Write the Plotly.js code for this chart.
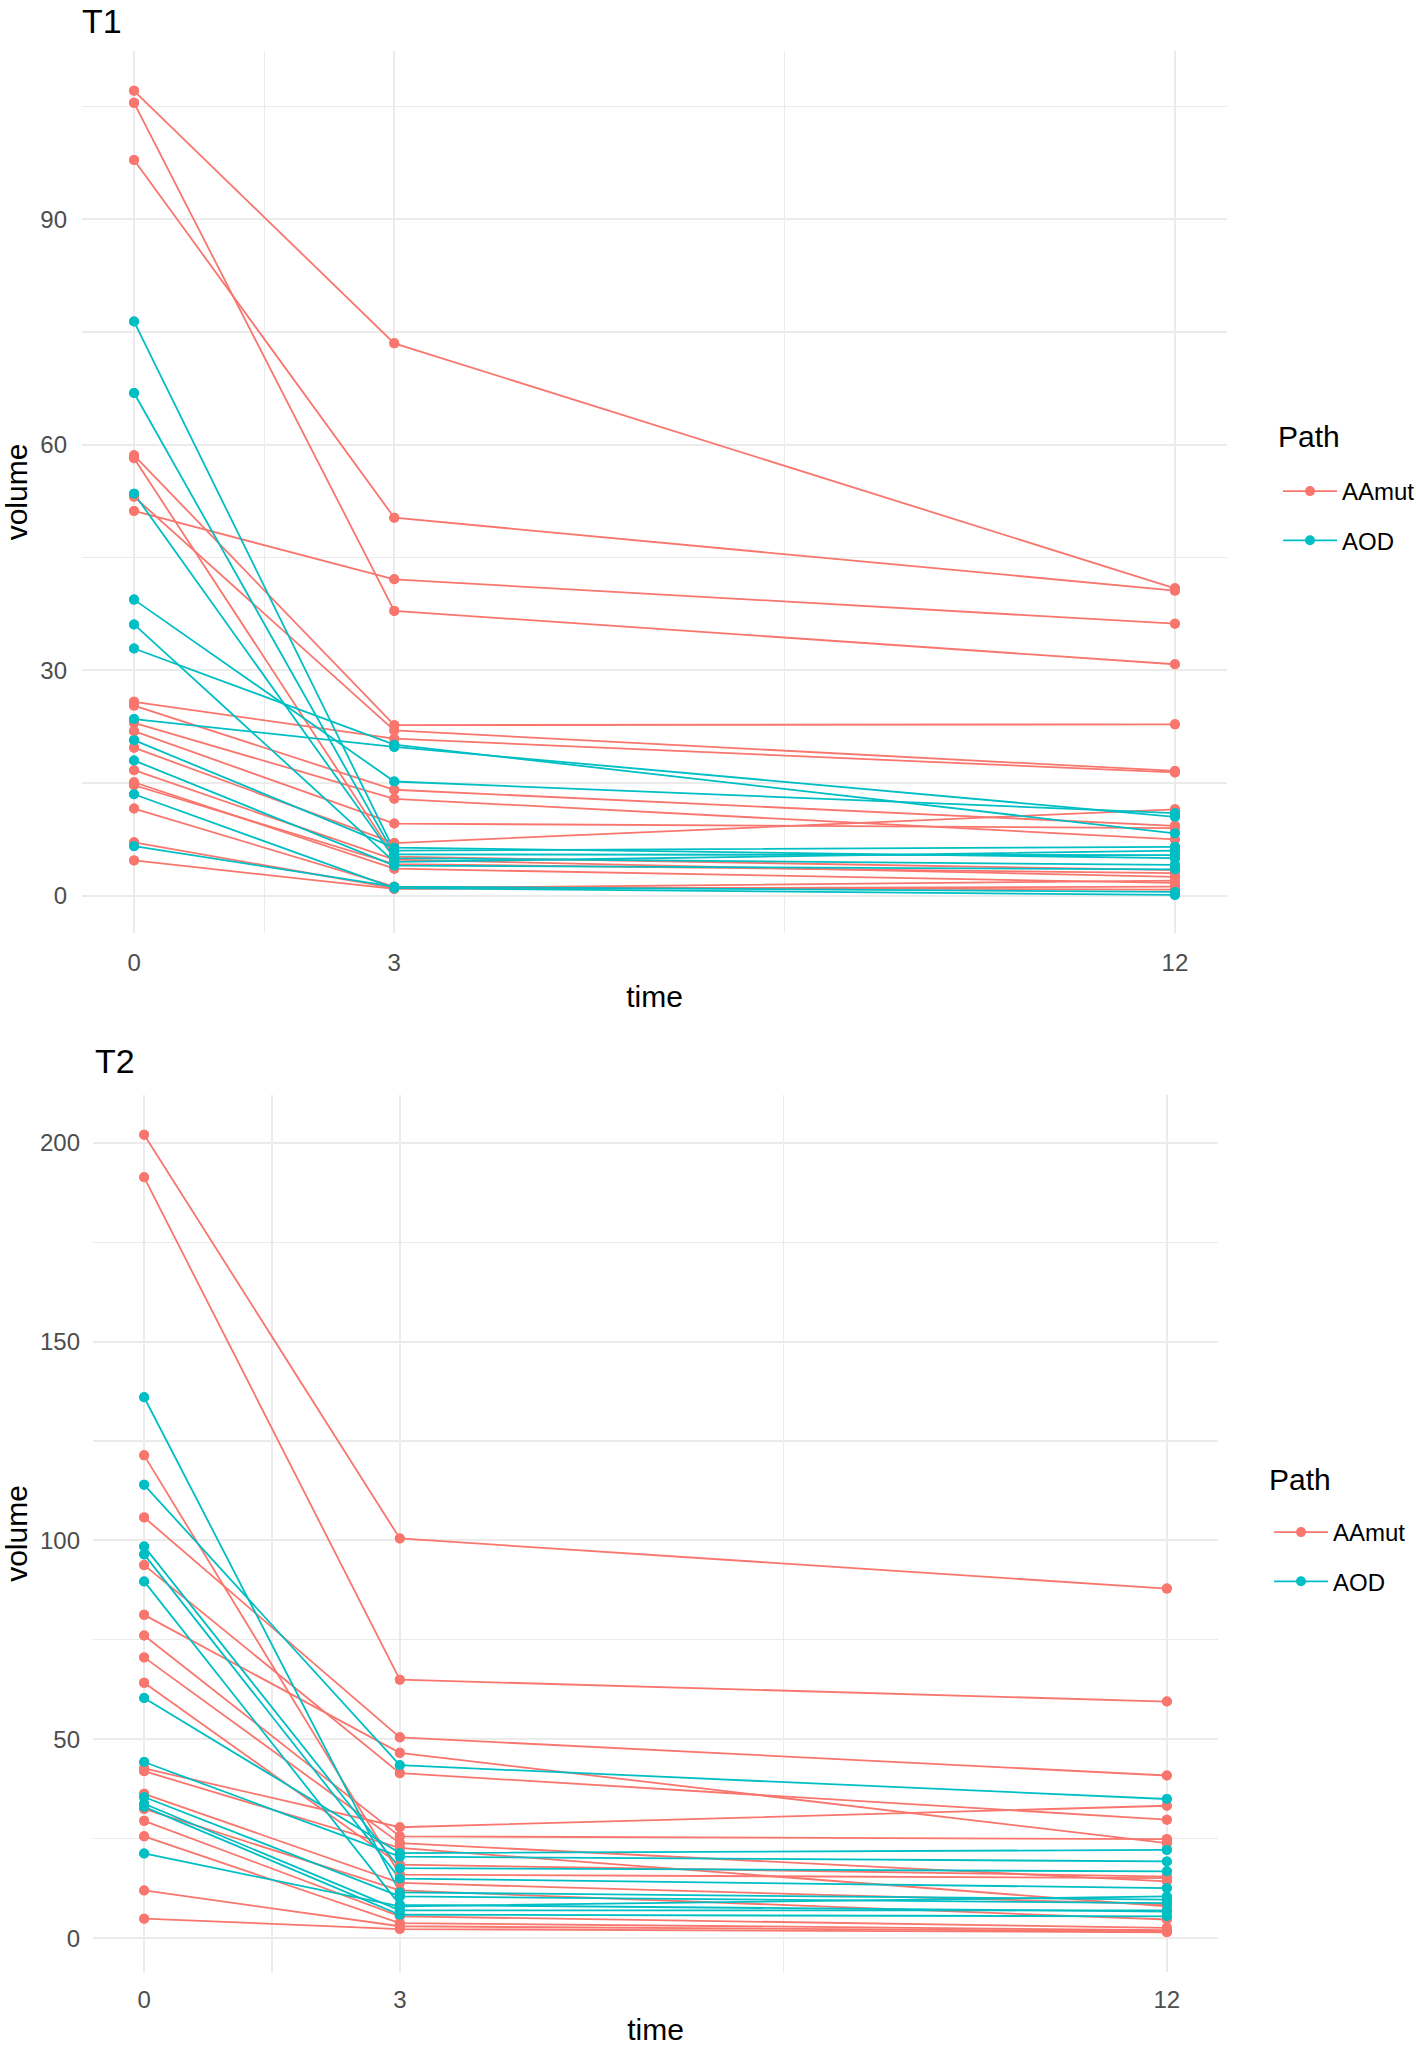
<!DOCTYPE html>
<html>
<head>
<meta charset="utf-8">
<script src="https://cdn.plot.ly/plotly-3.0.1.min.js"></script>
<style>
html, body { margin: 0; padding: 0; background: #ffffff; overflow: hidden; }
#p1, #p2 { width: 1416px; height: 1023px; }
</style>
</head>
<body>
<div id="p1"></div>
<div id="p2"></div>
<script>
// ---------- data ----------
const times = [0, 3, 12];
const timeTicks = ['0', '3', '12'];
const groups = ['AAmut', 'AOD'];

// T1, AAmut (one value per subject at each time)
const t1AAmutT0  = [107.1, 105.5, 97.9, 58.6, 58.2, 53.1, 51.2, 25.8, 25.3, 23.0, 21.9, 19.7, 16.7, 15.1, 14.7, 11.6, 7.1, 4.7];
const t1AAmutT3  = [73.5, 37.9, 50.3, 22.7, 5.2, 22.0, 42.1, 20.9, 14.1, 12.9, 9.6, 7.0, 4.8, 3.6, 4.2, 1.2, 1.0, 0.9];
const t1AAmutT12 = [40.9, 30.8, 40.6, 22.8, 3.4, 16.6, 36.2, 16.4, 9.3, 7.5, 9.0, 11.5, 2.5, 1.7, 3.0, 0.8, 2.0, 1.2];
// T1, AOD
const t1AODT0  = [76.4, 66.9, 53.5, 39.4, 36.1, 32.9, 23.5, 20.7, 18.0, 13.5, 6.6];
const t1AODT3  = [6.0, 5.5, 5.0, 15.2, 4.5, 20.1, 19.8, 6.4, 4.0, 1.0, 1.2];
const t1AODT12 = [6.5, 5.4, 4.1, 11.0, 6.0, 8.3, 10.5, 5.0, 3.5, 0.1, 0.5];

// T2, AAmut
const t2AAmutT0  = [202.0, 191.3, 121.4, 105.8, 93.8, 81.3, 76.1, 70.6, 64.2, 42.7, 42.0, 36.3, 32.5, 29.5, 25.6, 12.0, 4.9];
const t2AAmutT3  = [100.5, 65.0, 16.0, 50.5, 41.5, 46.6, 25.6, 23.9, 18.5, 27.9, 22.7, 13.9, 12.0, 5.5, 3.8, 3.0, 2.3];
const t2AAmutT12 = [87.9, 59.5, 15.1, 40.9, 29.8, 23.9, 24.9, 14.3, 15.5, 33.3, 8.0, 8.5, 4.7, 2.6, 2.0, 1.7, 1.5];
// T2, AOD
const t2AODT0  = [136.0, 114.0, 98.5, 96.5, 89.7, 60.4, 44.3, 35.5, 33.8, 33.0, 21.3];
const t2AODT3  = [11.5, 43.5, 17.6, 15.0, 8.4, 21.4, 20.5, 10.5, 7.0, 5.9, 8.0];
const t2AODT12 = [9.7, 35.0, 16.8, 12.6, 6.7, 22.2, 19.3, 8.8, 7.0, 5.5, 10.5];

// y tick values
const t1YTicks = [0, 30, 60, 90];
const t2YTicks = [0, 50, 100, 150, 200];

// ---------- styling ----------
const colors = { AAmut: '#F8766D', AOD: '#00BFC4' };
const FONT = 'Liberation Sans, Arial, Helvetica, sans-serif';
const GRID = '#EBEBEB';

// build x/y arrays (one polyline per subject, separated by null)
function buildXY(v0, v3, v12) {
  const x = [], y = [];
  const cols = [v0, v3, v12];
  for (let i = 0; i < v0.length; i++) {
    for (let k = 0; k < times.length; k++) { x.push(times[k]); y.push(cols[k][i]); }
    x.push(null); y.push(null);
  }
  return { x, y };
}

function makeTraces(data) {
  const traces = [];
  // line layer (with legend entries showing line + point)
  data.forEach(d => {
    const xy = buildXY(d.v0, d.v3, d.v12);
    traces.push({
      type: 'scatter', mode: 'lines+markers', name: d.name,
      x: xy.x, y: xy.y, connectgaps: false,
      line: { color: colors[d.name], width: 1.8 },
      marker: { color: colors[d.name], size: 10 },
      legendgroup: d.name, showlegend: true, hoverinfo: 'skip'
    });
  });
  // point layer drawn above all lines
  data.forEach(d => {
    const xy = buildXY(d.v0, d.v3, d.v12);
    traces.push({
      type: 'scatter', mode: 'markers', name: d.name,
      x: xy.x, y: xy.y,
      marker: { color: colors[d.name], size: 10 },
      legendgroup: d.name, showlegend: false, hoverinfo: 'skip'
    });
  });
  return traces;
}

function makeLayout(opt) {
  return {
    width: 1416, height: 1023,
    paper_bgcolor: '#ffffff', plot_bgcolor: '#ffffff',
    margin: Object.assign({ autoexpand: false, pad: 0 }, opt.margin),
    font: { family: FONT, color: '#000000' },
    title: {
      text: opt.title, x: opt.titleX, xanchor: 'left', xref: 'container',
      y: opt.titleY, yanchor: 'middle', yref: 'container',
      font: { family: FONT, size: 34, color: '#000000' }
    },
    showlegend: true,
    legend: {
      x: opt.legendX, xanchor: 'left', y: opt.legendY, yanchor: 'top',
      font: { family: FONT, size: 24, color: '#000000' },
      bgcolor: 'rgba(0,0,0,0)', borderwidth: 0,
      tracegroupgap: 15, itemwidth: 54, traceorder: 'grouped'
    },
    annotations: [{
      text: 'Path', xref: 'paper', yref: 'paper',
      x: opt.legendTitleX, y: opt.legendTitleY, xanchor: 'left', yanchor: 'middle',
      showarrow: false, font: { family: FONT, size: 30, color: '#000000' }
    }],
    xaxis: {
      range: [-0.6, 12.6], tickmode: 'array', tickvals: times, ticktext: timeTicks,
      showgrid: true, gridcolor: GRID, gridwidth: 2,
      minor: { tickmode: 'array', tickvals: [1.5, 7.5], showgrid: true, gridcolor: GRID, gridwidth: 1.2 },
      zeroline: false, showline: false, ticks: '',
      ticklabelstandoff: opt.xStandoff,
      tickfont: { family: FONT, size: 24, color: '#4D4D4D' },
      title: { text: 'time', standoff: opt.xTitleStandoff, font: { family: FONT, size: 30, color: '#000000' } },
      automargin: false, fixedrange: true
    },
    yaxis: {
      range: opt.yRange, tickmode: 'array', tickvals: opt.yTicks, ticktext: opt.yTicks.map(String),
      showgrid: true, gridcolor: GRID, gridwidth: 2,
      minor: { dtick: opt.yMinor, tick0: 0, showgrid: true, gridcolor: GRID, gridwidth: 1.2 },
      zeroline: false, showline: false, ticks: '',
      ticklabelstandoff: opt.yStandoff,
      tickfont: { family: FONT, size: 24, color: '#4D4D4D' },
      title: { text: 'volume', standoff: opt.yTitleStandoff, font: { family: FONT, size: 30, color: '#000000' } },
      automargin: false, fixedrange: true
    }
  };
}

const cfg = { displayModeBar: false, staticPlot: true };

// Panel T1: plot area x 82..1227, y 51..933 (of 1023)
const p1W = 1227 - 82, p1H = 933 - 51;
Plotly.newPlot('p1', makeTraces([
  { name: 'AAmut', v0: t1AAmutT0, v3: t1AAmutT3, v12: t1AAmutT12 },
  { name: 'AOD',   v0: t1AODT0,   v3: t1AODT3,   v12: t1AODT12 }
]), makeLayout({
  title: 'T1', titleX: 82 / 1416, titleY: 1 - 21 / 1023,
  margin: { l: 82, r: 1416 - 1227, t: 51, b: 1023 - 933 },
  legendX: (1278 - 82) / p1W, legendY: (933 - 469) / p1H,
  legendTitleX: (1276 - 82) / p1W, legendTitleY: (933 - 436) / p1H,
  yRange: [-4.96, 112.4], yTicks: t1YTicks, yMinor: 15,
  xStandoff: 13, xTitleStandoff: 10, yStandoff: 14, yTitleStandoff: 17
}), cfg);

// Panel T2: plot area x 93..1218, y 72..949 (of 1023)
const p2W = 1218 - 93, p2H = 949 - 72;
Plotly.newPlot('p2', makeTraces([
  { name: 'AAmut', v0: t2AAmutT0, v3: t2AAmutT3, v12: t2AAmutT12 },
  { name: 'AOD',   v0: t2AODT0,   v3: t2AODT3,   v12: t2AODT12 }
]), makeLayout({
  title: 'T2', titleX: 95 / 1416, titleY: 1 - 38 / 1023,
  margin: { l: 93, r: 1416 - 1218, t: 72, b: 1023 - 949 },
  legendX: (1269 - 93) / p2W, legendY: (949 - 487) / p2H,
  legendTitleX: (1267 - 93) / p2W, legendTitleY: (949 - 456) / p2H,
  yRange: [-8.5, 212], yTicks: t2YTicks, yMinor: 25,
  xStandoff: 11, xTitleStandoff: 10, yStandoff: 12, yTitleStandoff: 17
}), cfg);
</script>
</body>
</html>
